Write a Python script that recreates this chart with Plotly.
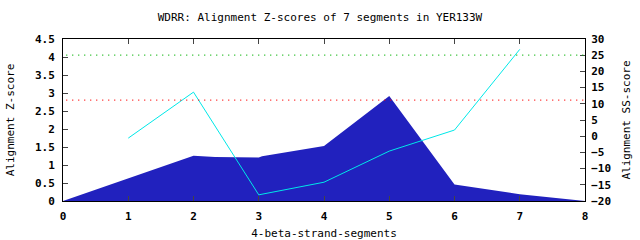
import plotly.graph_objects as go

# Data
area_x = [0, 1, 2, 2.33, 3, 3.05, 4, 5, 6, 7, 7.85, 8]
area_z = [0, 0.62, 1.26, 1.22, 1.21, 1.24, 1.53, 2.92, 0.46, 0.19, 0.03, 0.0]

ss_x = [1, 2, 3, 4, 5, 6, 7]
ss_score = [-0.6, 13.6, -18.1, -14.2, -4.6, 1.9, 26.8]

green_z = 4.05
red_z = 2.8

x_ticks = [0, 1, 2, 3, 4, 5, 6, 7, 8]
y_ticks = [0, 0.5, 1, 1.5, 2, 2.5, 3, 3.5, 4, 4.5]
y_tick_text = ["0", "0.5", "1", "1.5", "2", "2.5", "3", "3.5", "4", "4.5"]
y2_ticks = [-20, -15, -10, -5, 0, 5, 10, 15, 20, 25, 30]

FONT = "DejaVu Sans Mono"

fig = go.Figure()
fig.add_trace(go.Scatter(x=area_x, y=area_z, mode="lines", fill="tozeroy",
                         line=dict(width=0, color="#2121be"), fillcolor="#2121be",
                         hoverinfo="skip"))
fig.add_trace(go.Scatter(x=ss_x, y=ss_score, mode="lines", yaxis="y2",
                         line=dict(width=1, color="#00e8e8")))

fig.add_shape(type="line", xref="x", yref="y", x0=0.05, x1=8, y0=green_z, y1=green_z,
              line=dict(color="#00b000", width=1.3, dash="1px,5px"))
fig.add_shape(type="line", xref="x", yref="y", x0=0.05, x1=8, y0=red_z, y1=red_z,
              line=dict(color="#ff0000", width=1.3, dash="1px,5px"))

tickfont = dict(family=FONT, size=11, color="black", weight="bold")
titlefont = dict(family=FONT, size=11, color="black")

fig.update_layout(
    width=640, height=240,
    margin=dict(l=63, r=55, t=39, b=39),
    paper_bgcolor="white", plot_bgcolor="white",
    showlegend=False,
    title=dict(text="WDRR: Alignment Z-scores of 7 segments in YER133W",
               x=0.5, xanchor="center", y=0.93, yanchor="middle",
               font=dict(family=FONT, size=11, color="black")),
    xaxis=dict(range=[0, 8], tickvals=x_ticks, ticks="inside", ticklen=5,
               showline=True, linecolor="black", linewidth=1, mirror="ticks",
               showgrid=False, zeroline=False, tickfont=tickfont, automargin=False,
               ticklabelstandoff=5,
               title=dict(text="4-beta-strand-segments", font=titlefont, standoff=10)),
    yaxis=dict(range=[0, 4.5], tickvals=y_ticks, ticktext=y_tick_text,
               ticks="inside", ticklen=5, automargin=False,
               showline=True, linecolor="black", linewidth=1,
               showgrid=False, zeroline=False, tickfont=tickfont,
               ticklabelstandoff=5,
               title=dict(text="Alignment Z-score", font=titlefont, standoff=18)),
    yaxis2=dict(range=[-20, 30], tickvals=y2_ticks, overlaying="y", side="right",
                ticks="inside", ticklen=5, automargin=False,
                showline=True, linecolor="black", linewidth=1,
                showgrid=False, zeroline=False, tickfont=tickfont,
                ticklabelstandoff=3,
                title=dict(text="Alignment SS-score", font=titlefont, standoff=12)),
)

fig.write_html("out.html")
